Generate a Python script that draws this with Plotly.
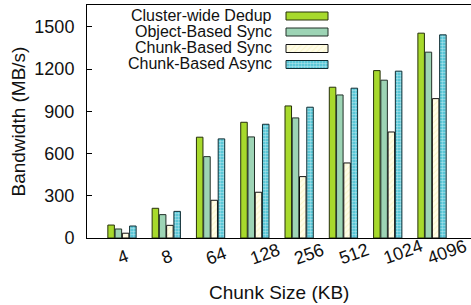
import plotly.graph_objects as go

categories = ["4", "8", "64", "128", "256", "512", "1024", "4096"]
cluster_wide_dedup = [92, 211, 716, 822, 938, 1071, 1189, 1455]
object_based_sync = [64, 166, 578, 718, 853, 1016, 1121, 1320]
chunk_based_sync = [34, 90, 268, 325, 436, 533, 753, 990]
chunk_based_async = [85, 189, 704, 808, 929, 1064, 1185, 1443]
series_names = ["Cluster-wide Dedup", "Object-Based Sync", "Chunk-Based Sync", "Chunk-Based Async"]
y_ticks = [0, 300, 600, 900, 1200, 1500]

FONT = "Liberation Sans, Arial, sans-serif"
W, H = 471, 305
L, T, B = 87, 5, 238  # plot area pixel edges

styles = [
    dict(color="#a7d92c", line="#26300a", pattern=None),
    dict(color="#9dd4b5", line="#223029", pattern=None),
    dict(color="#fffde8", line="#111111",
         pattern=dict(shape="/", fgcolor="#f3eca8", bgcolor="#fffde8", size=4, solidity=0.25)),
    dict(color="#3cbdd0", line="#102e34",
         pattern=dict(shape=".", fgcolor="#ffffff", bgcolor="#3cbdd0", size=3, solidity=0.6)),
]

x_idx = list(range(len(categories)))
fig = go.Figure()
for name, vals, st in zip(series_names,
                          [cluster_wide_dedup, object_based_sync, chunk_based_sync, chunk_based_async],
                          styles):
    marker = dict(color=st["color"], line=dict(color=st["line"], width=1))
    if st["pattern"]:
        marker["pattern"] = st["pattern"]
    fig.add_trace(go.Bar(x=x_idx, y=vals, name=name, marker=marker, showlegend=False))

# custom legend (text on left, swatch on right) drawn on a pixel-overlay axis pair
leg_rows = [16, 32, 48.5, 64.5]
for name, st, yc in zip(series_names, styles, leg_rows):
    marker = dict(color=st["color"], line=dict(color=st["line"], width=1))
    if st["pattern"]:
        marker["pattern"] = st["pattern"]
    fig.add_trace(go.Bar(orientation="h", y=[yc], x=[42], base=[286], width=8, offset=-4,
                         marker=marker, xaxis="x2", yaxis="y2", showlegend=False,
                         hoverinfo="skip"))
    fig.add_annotation(xref="x2", yref="y2", x=274, y=yc - 1, text=name, showarrow=False,
                       xanchor="right", yanchor="middle",
                       font=dict(family=FONT, size=16, color="#111111"))

# rotated x tick labels starting at the category position
for i, c in zip(x_idx, categories):
    fig.add_annotation(xref="x", yref="paper", x=i, y=0, text=c, showarrow=False,
                       xanchor="left", yanchor="bottom", textangle=-20,
                       xshift=-10, yshift=-33,
                       font=dict(family=FONT, size=18, color="#111111"))

fig.add_annotation(xref="paper", yref="paper", x=0.5, y=0, yshift=-54, text="Chunk Size (KB)",
                   showarrow=False, xanchor="center", yanchor="middle",
                   font=dict(family=FONT, size=19, color="#111111"))
fig.add_annotation(xref="paper", yref="paper", x=0, xshift=18 - L, y=0.5, text="Bandwidth (MB/s)",
                   showarrow=False, xanchor="center", yanchor="middle", textangle=-90,
                   font=dict(family=FONT, size=19, color="#111111"))

fig.update_layout(
    width=W, height=H,
    margin=dict(l=L, r=0, t=T, b=H - B, pad=0),
    paper_bgcolor="white", plot_bgcolor="white",
    barmode="group", bargap=0.345, bargroupgap=0.1,
    font=dict(family=FONT, size=18, color="#111111"),
    xaxis=dict(range=[-0.79, 7.88], showticklabels=False, ticks="", showgrid=False,
               zeroline=False, showline=True, linecolor="black", linewidth=1, mirror=True),
    yaxis=dict(range=[0, 1655], tickvals=y_ticks, ticks="inside", ticklen=5, tickcolor="black",
               showgrid=False, zeroline=False, showline=True, linecolor="black", linewidth=1,
               tickfont=dict(family=FONT, size=18, color="#111111"), ticklabelstandoff=8),
    xaxis2=dict(overlaying="x", range=[L, W], visible=False, anchor="y2"),
    yaxis2=dict(overlaying="y", range=[B, T], visible=False, anchor="x2"),
)

fig.write_html("out.html", config={"displayModeBar": False},
               post_script="document.body.style.margin='0';document.body.style.overflow='hidden';")
